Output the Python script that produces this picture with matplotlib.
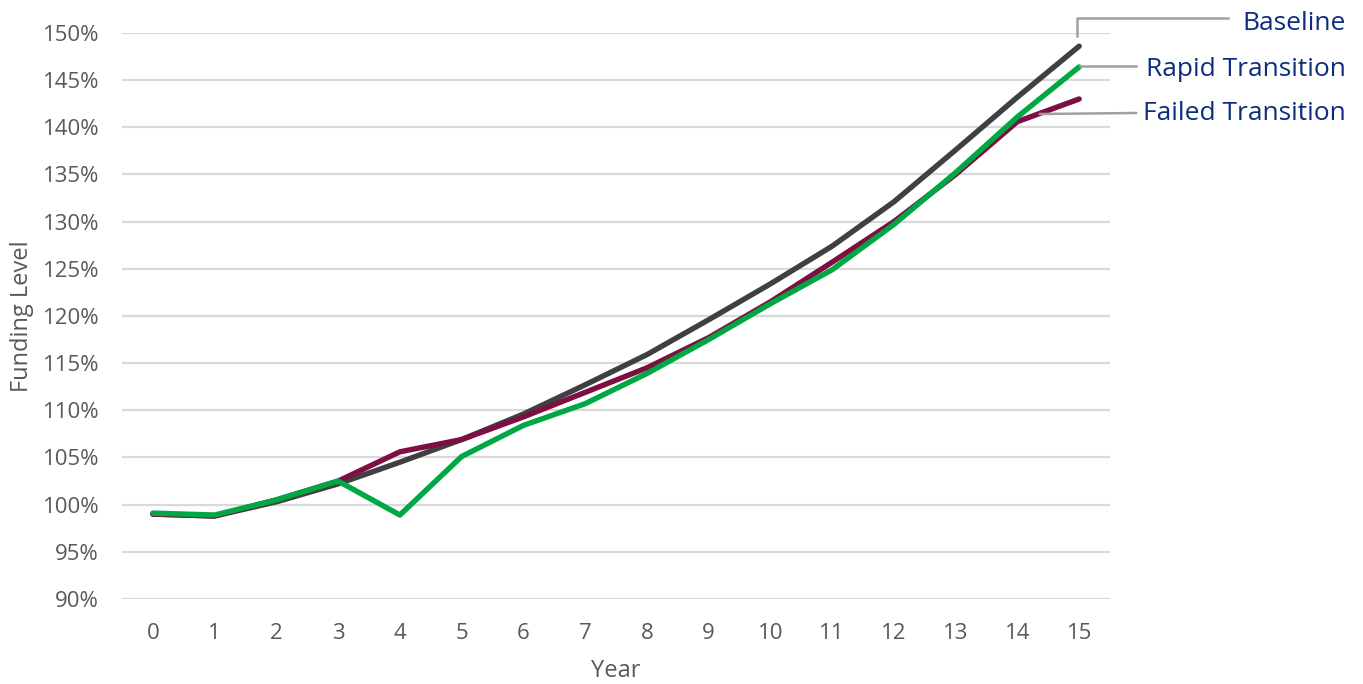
import matplotlib
matplotlib.use("Agg")
import matplotlib.pyplot as plt
from matplotlib.ticker import FuncFormatter

years = list(range(16))
baseline = [99.0, 98.8, 100.3, 102.2, 104.5, 106.9, 109.6, 112.7, 115.9, 119.6, 123.4, 127.4, 132.1, 137.6, 143.2, 148.6]
failed = [99.0, 98.8, 100.5, 102.5, 105.6, 106.9, 109.3, 111.9, 114.5, 117.7, 121.5, 125.7, 130.0, 135.0, 140.6, 143.0]
rapid = [99.1, 98.9, 100.5, 102.5, 98.9, 105.1, 108.4, 110.7, 113.9, 117.5, 121.3, 124.9, 129.7, 135.2, 141.1, 146.4]
yticks = list(range(90, 151, 5))

plt.rcParams['font.family'] = ['Open Sans', 'DejaVu Sans']

fig = plt.figure(figsize=(13.63, 6.84), dpi=100)
ax = fig.add_axes([0.0895, 0.1243, 0.8144 - 0.0895, 0.9518 - 0.1243])

ax.plot(years, baseline, color='#404040', lw=3.9, solid_capstyle='round', zorder=3)
ax.plot(years, failed, color='#7D0F42', lw=3.9, solid_capstyle='round', zorder=4)
ax.plot(years, rapid, color='#00A843', lw=3.9, solid_capstyle='round', zorder=5)

ax.set_xlim(-0.5, 15.5)
ax.set_ylim(90, 150)
ax.set_yticks(yticks)
ax.set_xticks(years)
ax.yaxis.set_major_formatter(FuncFormatter(lambda v, p: f"{int(round(v))}%"))
ax.grid(axis='y', color='#D9D9D9', lw=1.6, zorder=0)
for s in ax.spines.values():
    s.set_visible(False)
ax.tick_params(axis='both', length=0, colors='#595959', labelsize=16)
ax.tick_params(axis='y', pad=16.5)
ax.tick_params(axis='x', pad=17)
ax.set_xlabel('Year', color='#595959', fontsize=17, labelpad=11)
ax.set_ylabel('Funding Level', color='#595959', fontsize=17, labelpad=6)

# Leader lines and labels
lc = '#A0A0A0'
tc = '#0B2D7A'
def px(x, y):
    return fig.transFigure.inverted().transform((x, 684 - y))

def seg(pts):
    xs, ys = zip(*[px(x, y) for x, y in pts])
    fig.add_artist(plt.Line2D(xs, ys, color=lc, lw=1.8, transform=fig.transFigure))

seg([(1077, 36), (1077, 18), (1228, 18)])
seg([(1080, 66), (1136, 66)])
seg([(1040, 114), (1136, 113)])

for label, y in [('Baseline', 23), ('Rapid Transition', 69), ('Failed Transition', 114)]:
    x0, y0 = px(1346, y)
    fig.text(x0, y0, label, color=tc, fontsize=19, ha='right', va='center')

fig.savefig('out.png', dpi=100)
